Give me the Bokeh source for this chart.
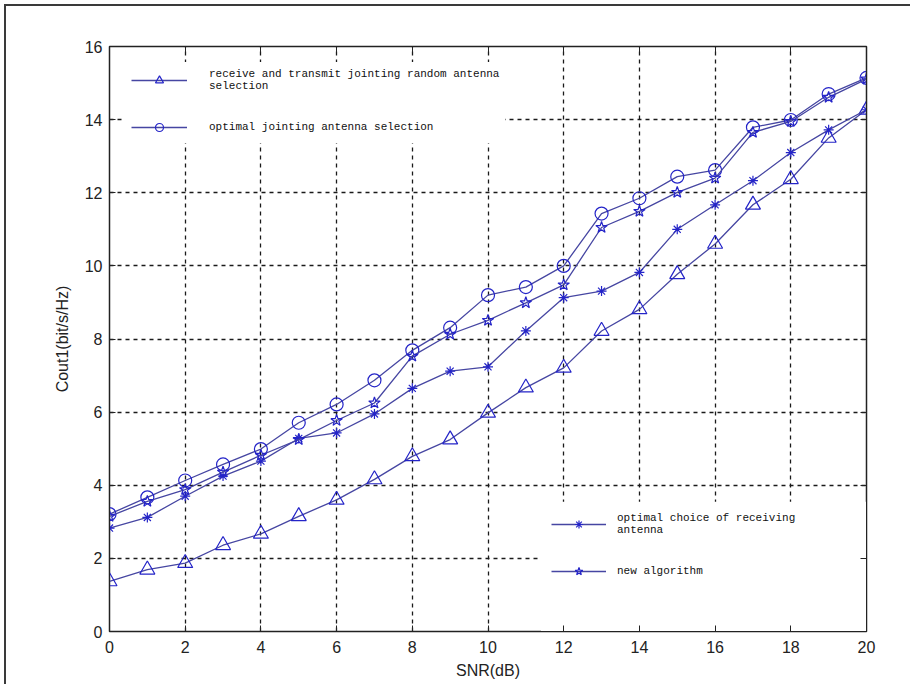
from bokeh.plotting import figure
from bokeh.models import Range1d, LinearAxis, Legend, LegendItem, FixedTicker, BoxAnnotation
from bokeh.embed import file_html
from bokeh.resources import INLINE

snr = list(range(0, 21))
random_joint = [1.37, 1.69, 1.87, 2.36, 2.67, 3.15, 3.60, 4.16, 4.79, 5.25, 5.98,
                6.67, 7.21, 8.22, 8.81, 9.77, 10.60, 11.67, 12.37, 13.50, 14.27]
optimal_joint = [3.21, 3.67, 4.13, 4.57, 4.99, 5.71, 6.21, 6.87, 7.69, 8.31, 9.20,
                 9.42, 10.00, 11.43, 11.85, 12.44, 12.62, 13.79, 13.99, 14.70, 15.14]
optimal_rx = [2.83, 3.12, 3.70, 4.25, 4.66, 5.28, 5.43, 5.95, 6.65, 7.12, 7.24,
              8.22, 9.13, 9.31, 9.82, 11.00, 11.67, 12.33, 13.10, 13.72, 14.27]
new_alg = [3.15, 3.56, 3.88, 4.36, 4.82, 5.25, 5.77, 6.25, 7.53, 8.13, 8.51,
           8.99, 9.48, 11.05, 11.49, 12.01, 12.40, 13.65, 13.95, 14.61, 15.11]

x_ticks = list(range(0, 21, 2))
y_ticks = list(range(0, 17, 2))

label_random = "receive and transmit jointing random antenna\nselection"
label_opt_joint = "optimal jointing antenna selection"
label_opt_rx = "optimal choice of receiving\nantenna"
label_new = "new algorithm"

LINE = "#4646a2"
MARK = "#2424c8"
TICK_FONT = "Liberation Sans"

p = figure(width=906, height=680, x_range=Range1d(0, 20), y_range=Range1d(0, 16),
           output_backend="svg", toolbar_location=None,
           min_border_left=103, min_border_right=46, min_border_top=40, min_border_bottom=55,
           background_fill_color="white", border_fill_color="white")
p.styles = {"border-top": "2px solid #3a3a3a", "border-left": "2px solid #3a3a3a",
            "border-right": "0px none white", "border-bottom": "0px none white",
            "margin-left": "4px", "margin-top": "4px"}

p.outline_line_color = "#222222"
p.outline_line_width = 1.5

for ax in (p.xaxis[0], p.yaxis[0]):
    ax.axis_line_color = "#222222"
    ax.major_tick_in = 6
    ax.major_tick_out = 0
    ax.minor_tick_in = 0
    ax.minor_tick_out = 0
    ax.major_tick_line_color = "#222222"
    ax.major_label_text_font = TICK_FONT
    ax.major_label_text_font_size = "16px"
    ax.major_label_text_color = "#222222"
    ax.axis_label_text_font = TICK_FONT
    ax.axis_label_text_font_size = "16px"
    ax.axis_label_text_font_style = "normal"
    ax.axis_label_text_color = "#222222"

p.xaxis[0].ticker = FixedTicker(ticks=x_ticks)
p.yaxis[0].ticker = FixedTicker(ticks=y_ticks)
p.xaxis[0].axis_label = "SNR(dB)"
p.yaxis[0].axis_label = "Cout1(bit/s/Hz)"
p.xaxis[0].major_label_standoff = 9
p.xaxis[0].axis_label_standoff = 6
p.yaxis[0].major_label_standoff = 7
p.yaxis[0].axis_label_standoff = 11

top_ax = LinearAxis(ticker=FixedTicker(ticks=x_ticks), major_label_text_alpha=0,
                    major_label_text_font_size="1px",
                    major_tick_in=6, major_tick_out=0, minor_tick_in=0, minor_tick_out=0,
                    axis_line_color="#222222", major_tick_line_color="#222222")
right_ax = LinearAxis(ticker=FixedTicker(ticks=y_ticks), major_label_text_alpha=0,
                      major_label_text_font_size="1px",
                      major_tick_in=6, major_tick_out=0, minor_tick_in=0, minor_tick_out=0,
                      axis_line_color="#222222", major_tick_line_color="#222222")
p.add_layout(top_ax, "above")
p.add_layout(right_ax, "right")

p.xgrid.ticker = FixedTicker(ticks=x_ticks)
p.ygrid.ticker = FixedTicker(ticks=y_ticks)
for g in (p.xgrid[0], p.ygrid[0]):
    g.grid_line_color = "#1a1a1a"
    g.grid_line_dash = "4 4"
    g.grid_line_width = 1.3

# white area behind the lower legend (hides the grid there, as in the original)
p.add_layout(BoxAnnotation(left=11.4, right=20, bottom=0, top=3.55,
                           fill_color="white", fill_alpha=1.0, line_alpha=0,
                           level="underlay"))

def series(ys, marker, size):
    l = p.line(snr, ys, line_color=LINE, line_width=1.3)
    s = p.scatter(snr, ys, marker=marker, size=size, line_color=MARK, fill_color=None,
                  line_width=1.2)
    return [l, s]

r_random = series(random_joint, "triangle", 15)
r_optj = series(optimal_joint, "circle", 13)
r_optrx = series(optimal_rx, "asterisk", 10)
r_new = series(new_alg, "star", 12)

def make_legend(items, loc, margin, gw, standoff):
    lg = Legend(items=items, location=loc, orientation="vertical",
                glyph_width=gw, glyph_height=20, label_standoff=standoff,
                padding=6, spacing=25, margin=margin,
                background_fill_color="white", background_fill_alpha=1.0,
                border_line_alpha=0,
                label_text_font="Liberation Mono", label_text_font_size="11px",
                label_text_color="#111111")
    p.add_layout(lg, "center")
    return lg

make_legend([LegendItem(label=label_random, renderers=r_random),
             LegendItem(label=label_opt_joint, renderers=r_optj)], "top_left", 16, 56, 22)
make_legend([LegendItem(label=label_opt_rx, renderers=r_optrx),
             LegendItem(label=label_new, renderers=r_new)], (436, 44), 0, 55, 11)

open("out.html", "w").write(file_html(p, INLINE))
